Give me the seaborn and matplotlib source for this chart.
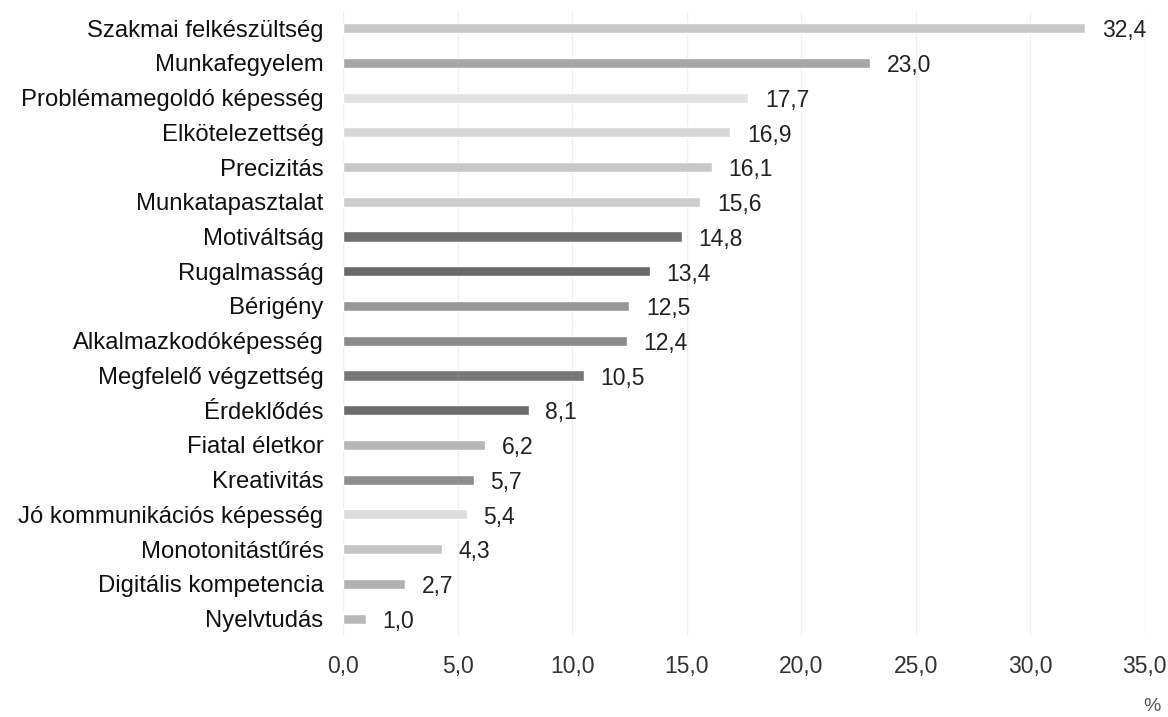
import pandas as pd
import seaborn as sns
import matplotlib.pyplot as plt

categories = [
    "Szakmai felkészültség", "Munkafegyelem", "Problémamegoldó képesség",
    "Elkötelezettség", "Precizitás", "Munkatapasztalat", "Motiváltság",
    "Rugalmasság", "Bérigény", "Alkalmazkodóképesség", "Megfelelő végzettség",
    "Érdeklődés", "Fiatal életkor", "Kreativitás", "Jó kommunikációs képesség",
    "Monotonitástűrés", "Digitális kompetencia", "Nyelvtudás",
]
values = [32.4, 23.0, 17.7, 16.9, 16.1, 15.6, 14.8, 13.4, 12.5, 12.4,
          10.5, 8.1, 6.2, 5.7, 5.4, 4.3, 2.7, 1.0]
bar_colors = ["#c9c9c9", "#a6a6a6", "#e2e2e2", "#d6d6d6", "#c8c8c8", "#cdcdcd",
              "#6f6f6f", "#686868", "#979797", "#8b8b8b", "#777777", "#6c6c6c",
              "#b6b6b6", "#8e8e8e", "#dcdcdc", "#c4c4c4", "#b0b0b0", "#b9b9b9"]
xticks = [0, 5, 10, 15, 20, 25, 30, 35]

df = pd.DataFrame({"cat": categories, "val": values})

sns.set_style("white")
plt.rcParams["font.family"] = ["Liberation Sans", "DejaVu Sans"]

fig = plt.figure(figsize=(11.68, 7.17), dpi=100)
ax = fig.add_axes([0.2937, 0.113, 0.6863, 0.872])
sns.barplot(data=df, x="val", y="cat", hue="cat", palette=bar_colors,
            legend=False, width=0.29, saturation=1, ax=ax)

for cont in ax.containers:
    anns = ax.bar_label(cont, labels=[f"{v:.1f}".replace(".", ",") for v in cont.datavalues],
                        padding=12, fontsize=16.5, color="#222222")
    for a in anns:
        a.xyann = (a.xyann[0], -2)

ax.set_xlim(0, 35)
ax.set_ylim(17.5, -0.5)
ax.set_xticks(xticks)
ax.set_xticklabels([f"{t:.1f}".replace(".", ",") for t in xticks])
ax.tick_params(axis="x", labelsize=16.5, length=0, pad=14, colors="#333333")
ax.tick_params(axis="y", labelsize=17.2, length=0, pad=14, colors="#111111")
ax.grid(axis="x", color="#f0f0f0", linewidth=1)
ax.set_axisbelow(True)
ax.set_xlabel("")
ax.set_ylabel("")
sns.despine(ax=ax, left=True, bottom=True)

fig.text(0.994, 0.003, "%", fontsize=14, color="#555555", ha="right", va="bottom")

plt.savefig("out.png", dpi=100)
